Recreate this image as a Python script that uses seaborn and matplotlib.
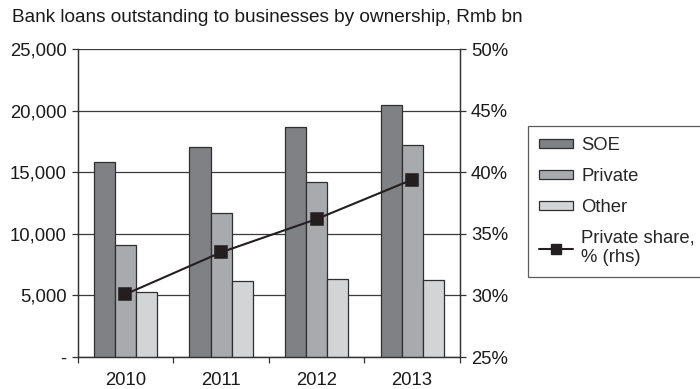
import matplotlib
matplotlib.use("Agg")
import matplotlib.pyplot as plt
import seaborn as sns
import pandas as pd
from matplotlib.ticker import FixedLocator, FuncFormatter
from matplotlib.patches import Patch
from matplotlib.lines import Line2D

# Bank loans by ownership, Rmb bn
years = ["2010", "2011", "2012", "2013"]
soe = [15800, 17050, 18650, 20450]
private = [9100, 11700, 14200, 17250]
other = [5300, 6170, 6360, 6250]
private_share = [30.1, 33.5, 36.2, 39.4]  # % of total, right axis

groups = ["SOE", "Private", "Other"]
palette = {"SOE": "#808185", "Private": "#a9aaad", "Other": "#d3d4d6"}

loans = pd.DataFrame({
    "year": years * 3,
    "group": ["SOE"] * 4 + ["Private"] * 4 + ["Other"] * 4,
    "value": soe + private + other,
})
share = pd.DataFrame({"year": years, "share": private_share})

sns.set_theme(style="white")
plt.rcParams["font.family"] = ["Liberation Sans", "DejaVu Sans"]
FS = 13.3

fig = plt.figure(figsize=(7.0, 3.89), dpi=100)
ax = fig.add_axes([0.111, 0.082, 0.546, 0.792])

sns.barplot(data=loans, x="year", y="value", hue="group", hue_order=groups,
            order=years, palette=palette, width=0.66, edgecolor="#2f2f2f",
            linewidth=0.9, saturation=1, ax=ax, legend=False, zorder=3)

ax.set_ylim(0, 25000)
ax.set_xlim(-0.5, 3.5)
ax.yaxis.set_major_locator(FixedLocator([0, 5000, 10000, 15000, 20000, 25000]))
ax.yaxis.set_major_formatter(FuncFormatter(lambda v, p: "-" if v == 0 else f"{int(v):,}"))
ax.grid(axis="y", color="#3a3a3a", linewidth=0.9, zorder=0)
ax.set_axisbelow(True)

# category boundaries get ticks, year labels sit between them
ax.xaxis.set_major_locator(FixedLocator([-0.5, 0.5, 1.5, 2.5, 3.5]))
ax.xaxis.set_major_formatter(FuncFormatter(lambda v, p: ""))
ax.xaxis.set_minor_locator(FixedLocator([0, 1, 2, 3]))
ax.set_xticklabels(years, minor=True)
ax.tick_params(axis="x", which="major", direction="out", length=4, width=0.9,
               color="#333333", bottom=True)
ax.tick_params(axis="x", which="minor", length=0, pad=11, labelsize=FS,
               labelcolor="#1a1a1a")
ax.tick_params(axis="y", direction="out", length=4, width=0.9, color="#333333",
               left=True, labelsize=FS, pad=4, labelcolor="#1a1a1a")
ax.set_xlabel("")
ax.set_ylabel("")
for s in ax.spines.values():
    s.set_color("#333333")
    s.set_linewidth(0.9)
ax.spines["top"].set_visible(False)

ax2 = ax.twinx()
sns.pointplot(data=share, x="year", y="share", order=years, color="#231f20",
              markers="s", markersize=8, linewidth=1.5, ax=ax2, zorder=5)
ax2.set_ylim(25, 50)
ax2.set_xlim(-0.5, 3.5)
ax2.yaxis.set_major_locator(FixedLocator([25, 30, 35, 40, 45, 50]))
ax2.yaxis.set_major_formatter(FuncFormatter(lambda v, p: f"{int(v)}%"))
ax2.tick_params(axis="y", direction="out", length=4, width=0.9, color="#333333",
                right=True, labelsize=FS, pad=4, labelcolor="#1a1a1a")
ax2.set_ylabel("")
ax2.set_xlabel("")
for s in ax2.spines.values():
    s.set_color("#333333")
    s.set_linewidth(0.9)
ax2.spines["top"].set_visible(False)

fig.text(0.017, 0.955, "Bank loans outstanding to businesses by ownership, Rmb bn",
         fontsize=13.7, color="#1a1a1a", va="center", ha="left")

handles = [Patch(facecolor=palette[g], edgecolor="#2f2f2f", linewidth=0.9) for g in groups]
handles.append(Line2D([], [], color="#231f20", marker="s", markersize=7, linewidth=1.5))
labels = groups + ["Private share,\n% (rhs)"]
leg = fig.legend(handles, labels, loc="upper left", bbox_to_anchor=(0.754, 0.676),
                 bbox_transform=fig.transFigure, frameon=True, fancybox=False,
                 edgecolor="#333333", fontsize=FS, handlelength=1.85, handleheight=0.4,
                 labelspacing=0.75, borderpad=0.6, handletextpad=0.45,
                 borderaxespad=0)
leg.get_frame().set_linewidth(0.9)

fig.savefig("out.png", dpi=100)
